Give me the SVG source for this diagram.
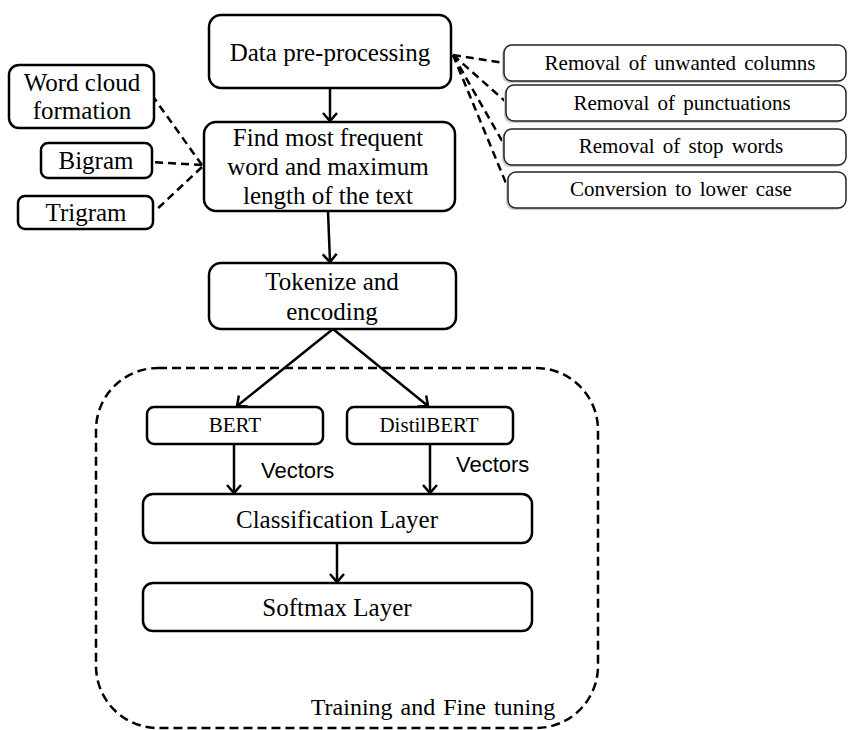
<svg xmlns="http://www.w3.org/2000/svg" width="848" height="730" viewBox="0 0 848 730">
<style>
.box{fill:#fff;stroke:#000;stroke-width:2.5}
.sbox{fill:#fff;stroke:#222;stroke-width:1.5}
.shadow{fill:#ccc;stroke:none}
.t{font-family:"Liberation Serif","Times New Roman",serif;font-size:25px;fill:#000;text-anchor:middle}
.tt{font-family:"Liberation Serif","Times New Roman",serif;font-size:24px;fill:#000;text-anchor:middle;word-spacing:2px}
.ts{font-family:"Liberation Serif","Times New Roman",serif;font-size:21px;fill:#000;text-anchor:middle;word-spacing:3px}
.tb{font-family:"Liberation Serif","Times New Roman",serif;font-size:21px;fill:#000;text-anchor:middle}
.v{font-family:"Liberation Sans",Arial,sans-serif;font-size:22px;fill:#000}
.arr{fill:none;stroke:#000;stroke-width:2.5;marker-end:url(#ah)}
.dash{fill:none;stroke:#000;stroke-width:2.5;stroke-dasharray:8,5}
</style>
<defs>
<marker id="ah" viewBox="0 0 10 16" refX="9" refY="8" markerWidth="10" markerHeight="16" markerUnits="userSpaceOnUse" orient="auto" overflow="visible">
<path d="M1,1 L9,8 L1,15" fill="none" stroke="#000" stroke-width="2.5"/>
</marker>
</defs>
<rect width="848" height="730" fill="#fff"/>

<g id="container">
<rect x="96" y="368" width="502" height="360" rx="62" ry="62" fill="none" stroke="#000" stroke-width="2.5" stroke-dasharray="9,5"/>
<text class="tt" x="433" y="715">Training and Fine tuning</text>
</g>

<g id="connectors">
<line class="arr" x1="330" y1="88" x2="330" y2="121"/>
<line class="arr" x1="328" y1="211" x2="330" y2="262"/>
<line class="arr" x1="333" y1="329" x2="237" y2="406"/>
<line class="arr" x1="333" y1="329" x2="428" y2="406"/>
<line class="arr" x1="234" y1="444" x2="234" y2="493"/>
<line class="arr" x1="430" y1="444" x2="430" y2="493"/>
<line class="arr" x1="337" y1="543" x2="337" y2="582"/>
<line class="dash" x1="202" y1="165" x2="154" y2="98"/>
<line class="dash" x1="202" y1="165" x2="152" y2="162"/>
<line class="dash" x1="202" y1="167" x2="155" y2="211"/>
<line class="dash" x1="453" y1="55" x2="504" y2="63"/>
<line class="dash" x1="453" y1="55" x2="505" y2="101"/>
<line class="dash" x1="453" y1="55" x2="505" y2="146"/>
<line class="dash" x1="453" y1="55" x2="508" y2="188"/>
<text class="v" x="261" y="478">Vectors</text>
<text class="v" x="456" y="472">Vectors</text>
</g>

<g id="data-preprocessing">
<rect class="box" x="209" y="15" width="242" height="73" rx="12"/>
<text class="t" x="330" y="61">Data pre-processing</text>
</g>

<g id="word-cloud">
<rect class="box" x="9" y="65" width="145" height="63" rx="10"/>
<text class="t" x="82" y="91">Word cloud</text>
<text class="t" x="82" y="119">formation</text>
</g>

<g id="bigram">
<rect class="box" x="41" y="143" width="111" height="35" rx="7"/>
<text class="t" x="96" y="169">Bigram</text>
</g>

<g id="trigram">
<rect class="box" x="18" y="196" width="135" height="33" rx="7"/>
<text class="t" x="86" y="221">Trigram</text>
</g>

<g id="find-most-frequent">
<rect class="box" x="204" y="122" width="251" height="89" rx="12"/>
<text class="t" x="328" y="146">Find most frequent</text>
<text class="t" x="328" y="175">word and maximum</text>
<text class="t" x="328" y="204">length of the text</text>
</g>

<g id="removal-columns">
<rect class="shadow" x="502" y="47" width="342" height="36" rx="8"/>
<rect class="sbox" x="504" y="45" width="342" height="36" rx="8"/>
<text class="ts" x="680" y="70">Removal of unwanted columns</text>
</g>

<g id="removal-punct">
<rect class="shadow" x="504" y="87" width="340" height="36" rx="8"/>
<rect class="sbox" x="506" y="85" width="340" height="36" rx="8"/>
<text class="ts" x="682" y="110">Removal of punctuations</text>
</g>

<g id="removal-stop">
<rect class="shadow" x="502" y="131" width="342" height="36" rx="8"/>
<rect class="sbox" x="504" y="129" width="342" height="36" rx="8"/>
<text class="ts" x="681" y="153">Removal of stop words</text>
</g>

<g id="lower-case">
<rect class="shadow" x="506" y="174" width="338" height="36" rx="8"/>
<rect class="sbox" x="508" y="172" width="338" height="36" rx="8"/>
<text class="ts" x="681" y="196">Conversion to lower case</text>
</g>

<g id="tokenize">
<rect class="box" x="209" y="263" width="247" height="66" rx="12"/>
<text class="t" x="332" y="290">Tokenize and</text>
<text class="t" x="332" y="320">encoding</text>
</g>

<g id="bert">
<rect class="box" x="147" y="407" width="176" height="37" rx="7"/>
<text class="tb" x="235" y="432">BERT</text>
</g>

<g id="distilbert">
<rect class="box" x="347" y="407" width="166" height="37" rx="7"/>
<text class="tb" x="429" y="432">DistilBERT</text>
</g>

<g id="classification">
<rect class="box" x="143" y="494" width="389" height="49" rx="10"/>
<text class="t" x="337" y="528">Classification Layer</text>
</g>

<g id="softmax">
<rect class="box" x="143" y="583" width="389" height="48" rx="10"/>
<text class="t" x="337" y="616">Softmax Layer</text>
</g>
</svg>
